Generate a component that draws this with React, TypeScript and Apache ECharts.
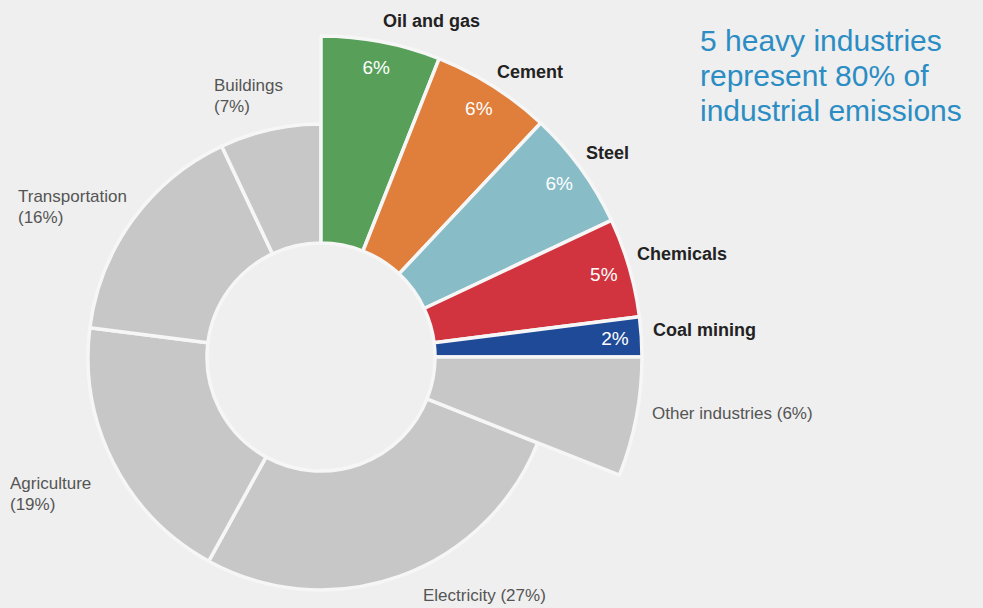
import React, { useEffect, useRef } from 'react';
import * as echarts from 'echarts';

// ---- data ----
const sectors = ['Oil and gas', 'Cement', 'Steel', 'Chemicals', 'Coal mining', 'Other industries', 'Electricity', 'Agriculture', 'Transportation', 'Buildings'];
const shares = [6, 6, 6, 5, 2, 6, 27, 19, 16, 7];
const isHeavy = [true, true, true, true, true, false, false, false, false, false];
const isIndustry = [true, true, true, true, true, true, false, false, false, false];
const titleLines = ['5 heavy industries', 'represent 80% of', 'industrial emissions'];

// ---- styles / layout ----
const sliceColors = ['#58a059', '#e07e3b', '#88bdc8', '#d1343e', '#1f4a98', '#c7c7c7', '#c7c7c7', '#c7c7c7', '#c7c7c7', '#c7c7c7'];
const labelWrap = [false, false, false, false, false, false, false, true, true, true];
const labelAnchors = [
  { x: 383, y: 21 },
  { x: 497, y: 72 },
  { x: 586, y: 153 },
  { x: 637, y: 254 },
  { x: 653, y: 330 },
  { x: 652, y: 413 },
  { x: 423, y: 595 },
  { x: 10, y: 494 },
  { x: 18, y: 207 },
  { x: 214, y: 96 },
];
const FONT = "'Liberation Sans', Arial, Helvetica, sans-serif";
const CENTER = [321, 357];
const HOLE = 114;
const RING = 233;
const OUTER = 321;
const GAP = '#f6f6f6';
const BG = '#efefef';
const CLEAR = 'rgba(0,0,0,0)';

const item = (i: number, visible: boolean, labelShow: boolean) => ({
  name: sectors[i],
  value: shares[i],
  itemStyle: visible
    ? { color: sliceColors[i], borderColor: GAP, borderWidth: 3.5 }
    : { color: CLEAR, borderWidth: 0 },
  label: { show: labelShow },
});

const anchorLayout = (p: any) => {
  const a = labelAnchors[p.dataIndex];
  return { x: a.x, y: a.y, align: 'left', verticalAlign: 'middle', hideOverlap: false };
};

export default function App() {
  const ref = useRef<HTMLDivElement>(null);
  useEffect(() => {
    if (!ref.current) return;
    const chart = echarts.init(ref.current, undefined, { renderer: 'svg' });
    const baseSeries = {
      type: 'pie',
      center: CENTER,
      startAngle: 90,
      clockwise: true,
      avoidLabelOverlap: false,
      emphasis: { disabled: true },
      labelLine: { show: false },
    };
    chart.setOption({
      animation: false,
      backgroundColor: BG,
      title: {
        text: titleLines.join('\n'),
        left: 700,
        top: 23,
        padding: 0,
        textStyle: { color: '#2b8dc3', fontSize: 30, lineHeight: 35, fontWeight: 'normal', fontFamily: FONT },
      },
      series: [
        {
          ...baseSeries,
          name: 'ring',
          radius: [HOLE, RING],
          data: sectors.map((_, i) => item(i, !isIndustry[i], !isHeavy[i])),
          label: {
            position: 'outside',
            color: '#555',
            fontSize: 17,
            lineHeight: 21,
            fontFamily: FONT,
            formatter: (p: any) => (labelWrap[p.dataIndex] ? `${p.name}\n(${p.value}%)` : `${p.name} (${p.value}%)`),
          },
          labelLayout: anchorLayout,
        },
        {
          ...baseSeries,
          name: 'industry',
          radius: [HOLE, OUTER],
          data: sectors.map((_, i) => item(i, isIndustry[i], isHeavy[i])),
          label: {
            position: 'outside',
            color: '#222',
            fontSize: 18,
            fontWeight: 'bold',
            fontFamily: FONT,
            formatter: '{b}',
          },
          labelLayout: anchorLayout,
        },
        {
          ...baseSeries,
          name: 'pct',
          silent: true,
          radius: [262, OUTER],
          data: sectors.map((_, i) => item(i, false, isHeavy[i])),
          label: {
            position: 'inside',
            color: '#ffffff',
            fontSize: 19,
            fontFamily: FONT,
            formatter: '{c}%',
          },
        },
      ],
    });
    return () => chart.dispose();
  }, []);
  return (
    <div
      ref={ref}
      style={{ position: 'fixed', left: 0, top: 0, width: 983, height: 608, background: BG }}
    />
  );
}
